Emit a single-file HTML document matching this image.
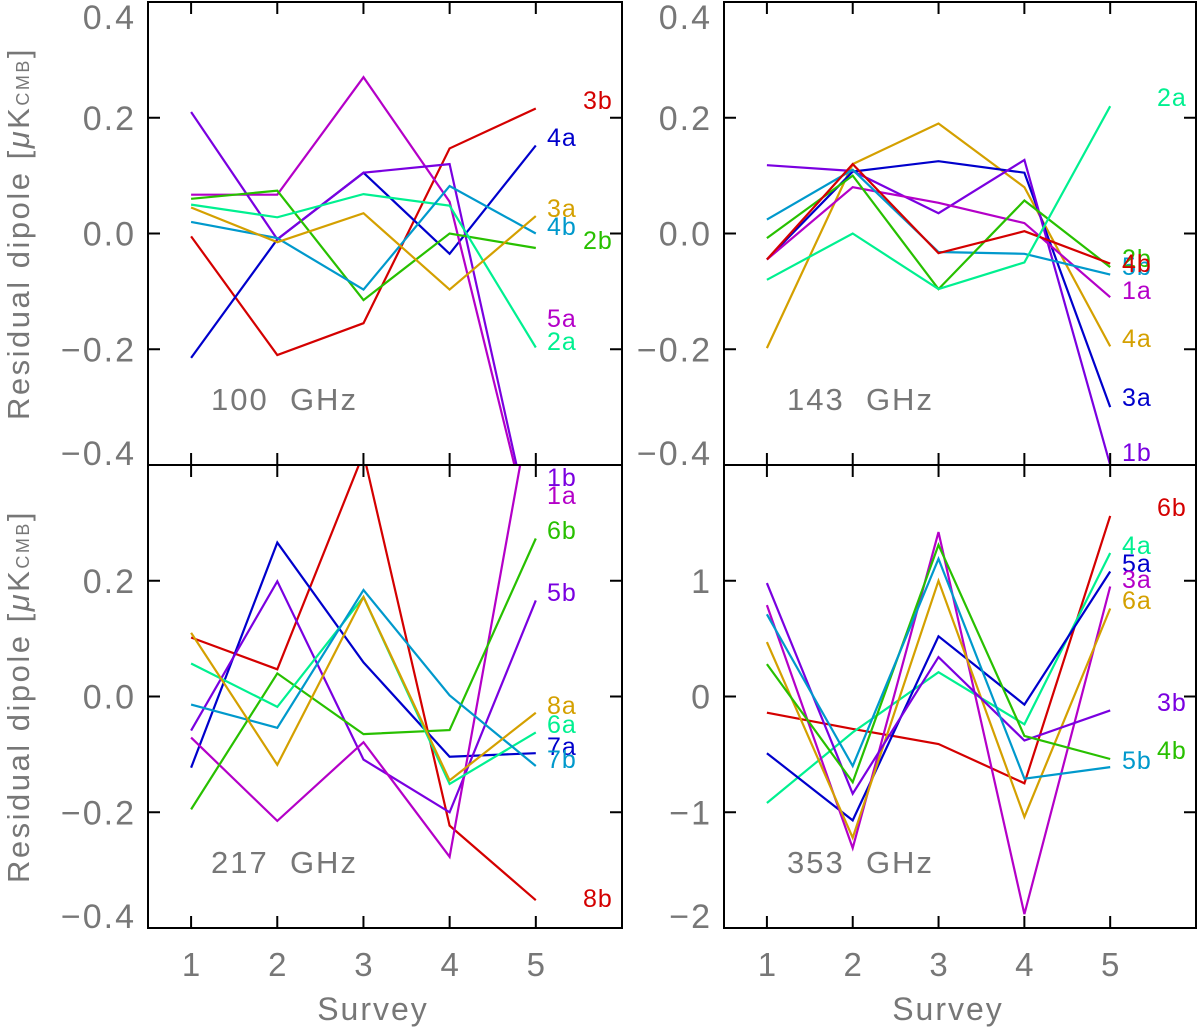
<!DOCTYPE html>
<html><head><meta charset="utf-8"><style>
html,body{margin:0;padding:0;background:#fff;}
svg{display:block;font-family:"Liberation Sans",sans-serif;}
</style></head><body>
<svg id="chart" width="1200" height="1027" viewBox="0 0 1200 1027"></svg>
<script>
const surveys = [1,2,3,4,5];
const colors = {red:"#d40000",blue:"#0000cc",magenta:"#b400c8",purple:"#7a00e0",green:"#28c000",mint:"#00f090",lblue:"#0099cc",gold:"#d4a000"};
// 100 GHz
const p100_3b = [-0.005,-0.21,-0.155,0.147,0.216];
const p100_4a = [-0.215,-0.01,0.105,-0.035,0.152];
const p100_5a = [0.067,0.067,0.27,0.055,-0.55];
const p100_1b = [0.21,-0.01,0.105,0.12,-0.55];
const p100_2b = [0.06,0.074,-0.115,0.0,-0.025];
const p100_2a = [0.05,0.028,0.068,0.048,-0.197];
const p100_4b = [0.02,-0.008,-0.097,0.082,0.0];
const p100_3a = [0.045,-0.015,0.035,-0.097,0.03];
// 143 GHz
const p143_4a = [-0.198,0.12,0.19,0.08,-0.195];
const p143_3a = [-0.045,0.107,0.125,0.105,-0.3];
const p143_1b = [0.118,0.108,0.035,0.127,-0.4];
const p143_1a = [-0.045,0.08,0.053,0.018,-0.11];
const p143_5b = [0.024,0.11,-0.032,-0.035,-0.071];
const p143_2b = [-0.008,0.1,-0.096,0.057,-0.058];
const p143_4b = [-0.045,0.12,-0.034,0.004,-0.052];
const p143_2a = [-0.08,0.0,-0.096,-0.05,0.22];
// 217 GHz
const p217_8b = [0.102,0.047,0.42,-0.223,-0.352];
const p217_7a = [-0.123,0.266,0.059,-0.104,-0.098];
const p217_5b = [-0.059,0.199,-0.109,-0.2,0.166];
const p217_1a = [-0.071,-0.215,-0.079,-0.277,0.55];
const p217_6b = [-0.195,0.04,-0.065,-0.058,0.273];
const p217_6a = [0.057,-0.018,0.172,-0.151,-0.062];
const p217_7b = [-0.014,-0.054,0.184,0.002,-0.12];
const p217_8a = [0.11,-0.118,0.172,-0.145,-0.028];
// 353 GHz
const p353_6b = [-0.14,-0.28,-0.41,-0.75,1.56];
const p353_4a = [-0.92,-0.31,0.21,-0.24,1.24];
const p353_5a = [-0.49,-1.07,0.52,-0.07,1.08];
const p353_3a = [0.79,-1.31,1.42,-1.88,0.95];
const p353_6a = [0.47,-1.22,1.0,-1.04,0.76];
const p353_3b = [0.98,-0.84,0.34,-0.38,-0.12];
const p353_4b = [0.28,-0.74,1.31,-0.34,-0.54];
const p353_5b = [0.71,-0.6,1.19,-0.71,-0.61];

const ticks04 = ["−0.4","−0.2","0.0","0.2","0.4"];
const tickVals04 = [-0.4,-0.2,0,0.2,0.4];
const ticks04b = ["−0.4","−0.2","0.0","0.2"];
const tickVals04b = [-0.4,-0.2,0,0.2];
const tickLabels353 = ["−2","−1","0","1"];
const tickVals353 = [-2,-1,0,1];

const panels = [
 {id:"100",x0:148,x1:622,y0:2,y1:465,ymin:-0.4,ymax:0.4,tv:tickVals04,tl:ticks04,showX:false,
  series:[["3b",p100_3b,"red"],["4a",p100_4a,"blue"],["5a",p100_5a,"magenta"],["1b",p100_1b,"purple"],["2b",p100_2b,"green"],["2a",p100_2a,"mint"],["4b",p100_4b,"lblue"],["3a",p100_3a,"gold"]],
  labels:[["3b",583,100,"red"],["4a",547,137,"blue"],["3a",547,208,"gold"],["4b",547,226,"lblue"],["2b",583,240,"green"],["5a",547,318,"magenta"],["2a",547,341,"mint"]]},
 {id:"143",x0:724,x1:1196,y0:2,y1:465,ymin:-0.4,ymax:0.4,tv:tickVals04,tl:ticks04,showX:false,
  series:[["4a",p143_4a,"gold"],["3a",p143_3a,"blue"],["1b",p143_1b,"purple"],["1a",p143_1a,"magenta"],["5b",p143_5b,"lblue"],["2b",p143_2b,"green"],["4b",p143_4b,"red"],["2a",p143_2a,"mint"]],
  labels:[["2a",1157,97,"mint"],["5b",1122,266,"lblue"],["2b",1122,258,"green"],["4b",1122,263,"red"],["1a",1122,290,"magenta"],["4a",1122,338,"gold"],["3a",1122,397,"blue"],["1b",1122,452,"purple"]]},
 {id:"217",x0:148,x1:622,y0:465,y1:928,ymin:-0.4,ymax:0.4,tv:tickVals04b,tl:ticks04b,showX:true,
  series:[["8b",p217_8b,"red"],["7a",p217_7a,"blue"],["5b",p217_5b,"purple"],["1a",p217_1a,"magenta"],["6b",p217_6b,"green"],["6a",p217_6a,"mint"],["7b",p217_7b,"lblue"],["8a",p217_8a,"gold"]],
  labels:[["1b",547,477,"purple"],["1a",547,495,"magenta"],["6b",547,530,"green"],["5b",547,592,"purple"],["8a",547,705,"gold"],["6a",547,724,"mint"],["7a",547,746,"blue"],["7b",547,759,"lblue"],["8b",583,898,"red"]]},
 {id:"353",x0:724,x1:1196,y0:465,y1:928,ymin:-2,ymax:2,tv:tickVals353,tl:tickLabels353,showX:true,
  series:[["6b",p353_6b,"red"],["4a",p353_4a,"mint"],["5a",p353_5a,"blue"],["3a",p353_3a,"magenta"],["6a",p353_6a,"gold"],["3b",p353_3b,"purple"],["4b",p353_4b,"green"],["5b",p353_5b,"lblue"]],
  labels:[["6b",1157,507,"red"],["4a",1122,545,"mint"],["5a",1122,563,"blue"],["3a",1122,579,"magenta"],["6a",1122,600,"gold"],["3b",1157,702,"purple"],["4b",1157,750,"green"],["5b",1122,760,"lblue"]]}
];
const svg = document.getElementById("chart");
const NS = "http://www.w3.org/2000/svg";
function mk(tag, attrs, parent){const e=document.createElementNS(NS,tag);for(const k in attrs)e.setAttribute(k,attrs[k]);(parent||svg).appendChild(e);return e;}
const defs = mk("defs",{});
const gray = "#777";
panels.forEach(p=>{
  const xs = v => p.x0 + (v-0.5)*(p.x1-p.x0)/5.5;
  const ys = v => p.y1 - (v-p.ymin)*(p.y1-p.y0)/(p.ymax-p.ymin);
  const g = mk("g",{});
  
  
  const cp = mk("clipPath",{id:"cp"+p.id},defs);
  mk("rect",{x:p.x0,y:p.y0,width:p.x1-p.x0,height:p.y1-p.y0},cp);
  p.series.forEach(s=>{
    const pts = surveys.map((sv,i)=>xs(sv).toFixed(1)+","+ys(s[1][i]).toFixed(1)).join(" ");
    const pl = mk("polyline",{points:pts,fill:"none",stroke:colors[s[2]],"stroke-width":2.2,"clip-path":"url(#cp"+p.id+")"},g);
    
    
  });
  p.labels.forEach(l=>{
    const t = mk("text",{x:l[1],y:l[2]+9,fill:colors[l[3]],"font-size":25,"letter-spacing":"1"},g);
    t.textContent = l[0];
    
    
  });
  const fr = mk("rect",{x:p.x0,y:p.y0,width:p.x1-p.x0,height:p.y1-p.y0,fill:"none",stroke:"#000","stroke-width":2},g);
  
  
  surveys.forEach(sv=>{
    mk("line",{x1:xs(sv),x2:xs(sv),y1:p.y0,y2:p.y0+12,stroke:"#000","stroke-width":2},g);
    mk("line",{x1:xs(sv),x2:xs(sv),y1:p.y1,y2:p.y1-12,stroke:"#000","stroke-width":2},g);
    if(p.showX){
      const t = mk("text",{x:xs(sv),y:976,"text-anchor":"middle",fill:gray,"font-size":33},g);
      t.textContent = sv;
      
      
    }
  });
  p.tv.forEach((v,i)=>{
    mk("line",{x1:p.x0,x2:p.x0+12,y1:ys(v),y2:ys(v),stroke:"#000","stroke-width":2},g);
    mk("line",{x1:p.x1,x2:p.x1-12,y1:ys(v),y2:ys(v),stroke:"#000","stroke-width":2},g);
    let cy = Math.max(p.y0+15, Math.min(p.y1-12, ys(v)));
    const t = mk("text",{x:p.x0-12,y:cy+12,"text-anchor":"end",fill:gray,"font-size":34,"letter-spacing":"2"},g);
    t.textContent = p.tl[i];
    
    
  });
  const pt = mk("text",{x:p.x0+63,y:p.y0+408,fill:gray,"font-size":31,"letter-spacing":"2"},g);
  pt.textContent = p.id+"  GHz";
  pt.style.whiteSpace="pre";
  
  
  if(p.showX){
    const xt = mk("text",{x:(p.x0+p.x1)/2-12,y:1020,"text-anchor":"middle",fill:gray,"font-size":32,"letter-spacing":"2"},g);
    xt.textContent = "Survey";
    
    
  }
  if(p.x0<300){
    const cy=(p.y0+p.y1)/2;
    const yt = mk("text",{x:0,y:0,transform:"translate(29,"+cy+") rotate(-90)","text-anchor":"middle",fill:gray,"font-size":31,"letter-spacing":"2.5"},g);
    yt.innerHTML = 'Residual dipole [<tspan font-style="italic">μ</tspan>K<tspan font-size="18">CMB</tspan>]';
    
    
  }
});
</script>
</body></html>
